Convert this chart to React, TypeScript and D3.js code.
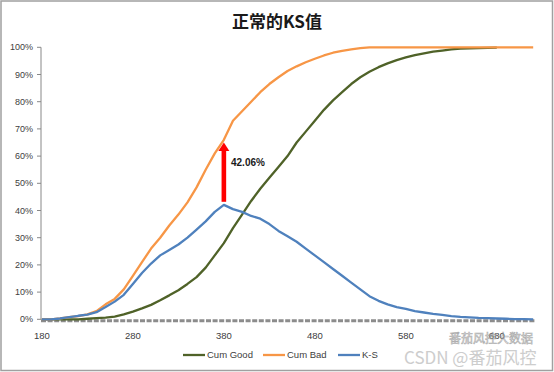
import React from "react";
import * as d3 from "d3";

const scores = d3.range(180, 730, 10);
const cumBad = [0, 0, 0.3, 0.8, 1.2, 1.8, 3.0, 5.5, 7.5, 11, 16, 21, 26, 30, 34.5, 38.5, 43, 48.5, 55, 61, 66, 73, 76.5, 80, 83.5, 86.5, 89, 91.3, 93, 94.5, 95.8, 97, 98, 98.7, 99.2, 99.7, 100, 100, 100, 100, 100, 100, 100, 100, 100, 100, 100, 100, 100, 100, 100, 100, 100, 100, 100];
const cumGood = [0, 0, 0, 0, 0, 0.2, 0.4, 0.6, 1, 1.8, 2.8, 4, 5.3, 7, 8.8, 10.7, 13, 15.5, 19, 23.5, 28, 33.5, 38.5, 43.5, 48, 52, 56, 60, 65, 69, 73, 77, 80.5, 83.5, 86.5, 89, 91, 92.7, 94.1, 95.3, 96.3, 97.1, 97.8, 98.4, 98.8, 99.2, 99.5, 99.6, 99.7, 99.8, 99.9];
const ks = [0, 0, 0.3, 0.8, 1.3, 1.7, 2.6, 4.5, 6.5, 9, 13, 17, 20.5, 23.5, 25.5, 27.5, 30, 33, 36, 39.5, 42.06, 40.5, 39.5, 38, 37, 35, 32.5, 30.5, 28.5, 26, 23.5, 21, 18.5, 16, 13.5, 11, 8.5, 6.8, 5.5, 4.5, 3.8, 3, 2.5, 2, 1.6, 1.2, 0.9, 0.7, 0.5, 0.4, 0.3, 0.2, 0.1, 0.05, 0];
const xTicks = [180, 280, 380, 480, 580, 680];
const yTicks = d3.range(0, 101, 10);
const ksPeakScore = 380;
const arrowFrom = 43.2;
const arrowTo = 65;
const ksLabel = "42.06%";
const title = "正常的KS值";
const seriesNames = ["Cum Good", "Cum Bad", "K-S"];
const seriesColors = ["#4F6228", "#F79646", "#4F81BD"];

export default function App() {
  const W = 554, H = 372;
  const x = d3.scaleLinear().domain([179, 722]).range([41, 535]);
  const y = d3.scaleLinear().domain([0, 100]).range([319.3, 47.3]);
  const line = d3.line<[number, number]>().x(d => x(d[0])).y(d => y(d[1]));
  const series = [cumGood, cumBad, ks];
  const font = "'Liberation Sans', Arial, sans-serif";
  const ax = x(ksPeakScore);
  const legendX = [183, 263, 338];

  return (
    <svg width={W} height={H} style={{ position: "absolute", left: 0, top: 0, background: "#fff" }} fontFamily={font}>
      <rect x={1} y={1} width={W - 2.5} height={H - 2.5} fill="#fff" stroke="#a0a0a0" strokeWidth={1.5} />
      <text x={277} y={28} textAnchor="middle" fontSize={17} fontWeight="bold" fill="#1a1a1a"
        fontFamily="'Noto Sans CJK SC', 'Liberation Sans', sans-serif">{title}</text>
      {/* y axis */}
      <line x1={41} x2={41} y1={y(100)} y2={y(0)} stroke="#888" strokeWidth={1} />
      {yTicks.map(t => (
        <g key={t}>
          <line x1={37} x2={41} y1={y(t)} y2={y(t)} stroke="#888" />
          <text x={33} y={y(t)} dy="0.35em" textAnchor="end" fontSize={9} fill="#404040">{t + "%"}</text>
        </g>
      ))}
      {/* x axis */}
      <line x1={41} x2={535} y1={y(0) + 1.5} y2={y(0) + 1.5} stroke="#8c8c8c" strokeWidth={3} strokeDasharray="5 1.6" />
      {xTicks.map(t => (
        <text key={t} x={x(t)} y={339} textAnchor="middle" fontSize={9.5} fill="#404040">{t}</text>
      ))}
      {/* series */}
      {series.map((vals, i) => (
        <path key={i} d={line(vals.map((v, j) => [scores[j], v] as [number, number])) || ""}
          fill="none" stroke={seriesColors[i]} strokeWidth={2.3} strokeLinejoin="round" />
      ))}
      {/* arrow */}
      <rect x={ax - 2.3} y={y(arrowTo) + 8} width={4.6} height={y(arrowFrom) - y(arrowTo) - 8} fill="#FF0000" />
      <path d={`M${ax - 5.5},${y(arrowTo) + 8.5} L${ax},${y(arrowTo)} L${ax + 5.5},${y(arrowTo) + 8.5} Z`} fill="#FF0000" />
      <text x={231} y={166} fontSize={10} fontWeight="bold" fill="#1a1a1a">{ksLabel}</text>
      {/* legend */}
      {seriesNames.map((n, i) => (
        <g key={n}>
          <line x1={legendX[i]} x2={legendX[i] + 22} y1={355} y2={355} stroke={seriesColors[i]} strokeWidth={2.3} />
          <text x={legendX[i] + 24} y={355} dy="0.35em" fontSize={9.5} fill="#404040">{n}</text>
        </g>
      ))}
      {/* watermark */}
      <text x={449} y={343} fontSize={12} fill="none" stroke="#999" strokeWidth={0.6} opacity={0.8}
        fontFamily="'Noto Sans CJK SC', sans-serif">番茄风控大数据</text>
      <text x={404} y={364} fontSize={17} fill="#c8c8c8" opacity={0.9}
        fontFamily="'Noto Sans CJK SC', 'Liberation Sans', sans-serif">CSDN @番茄风控</text>
    </svg>
  );
}
